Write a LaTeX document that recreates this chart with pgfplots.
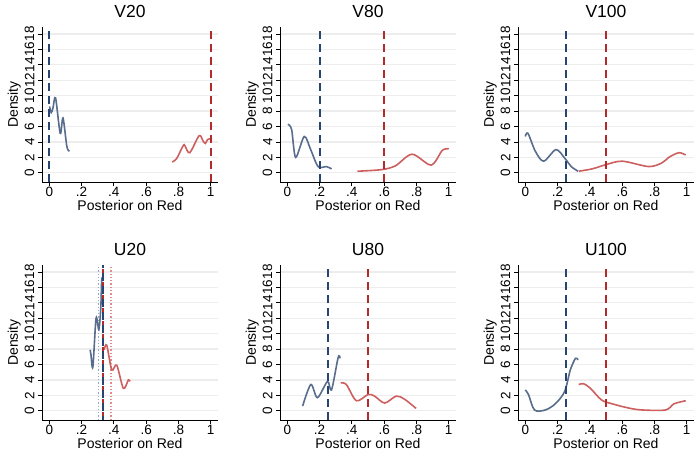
\documentclass[border=0pt]{standalone}
\usepackage{fontspec}
\setmainfont{Liberation Sans}
\usepackage{pgfplots}
\pgfplotsset{compat=1.18}
\usepgfplotslibrary{groupplots}

\definecolor{bcurve}{RGB}{88,108,140}
\definecolor{rcurve}{RGB}{205,95,95}
\definecolor{bline}{RGB}{40,68,112}
\definecolor{rline}{RGB}{180,42,42}
\definecolor{bdot}{RGB}{150,165,190}
\definecolor{rdot}{RGB}{225,140,140}

\pgfplotsset{
  panel/.style={
    scale only axis, width=176pt, height=155pt,
    xmin=-0.045, xmax=1.045, ymin=-1.2, ymax=18.9,
    axis x line*=bottom, axis y line*=left, axis line style={-, line width=0.8pt},
    xtick={0,0.2,0.4,0.6,0.8,1}, xticklabels={0,.2,.4,.6,.8,1},
    ytick={0,2,...,18},
    /pgf/number format/assume math mode=true,
    tick align=outside, major tick length=4pt, tick style={black, line width=0.8pt},
    ticklabel style={font=\fontsize{13.5}{15}\selectfont},
    xticklabel style={inner sep=1pt},
    yticklabel style={rotate=90, anchor=south, inner sep=3.5pt},
    ymajorgrids, grid style={gray!14, line width=1.2pt},
    xlabel={Posterior on Red}, ylabel={Density},
    label style={font=\fontsize{14}{16}\selectfont},
    xlabel style={yshift=1pt}, ylabel style={yshift=-3pt},
    title style={font=\fontsize{17.5}{19}\selectfont},
  },
  bcurv/.style={color=bcurve, line width=1.6pt, smooth},
  rcurv/.style={color=rcurve, line width=1.6pt, smooth},
  bvert/.style={color=bline, line width=2pt, dash pattern=on 8pt off 5pt},
  rvert/.style={color=rline, line width=2pt, dash pattern=on 8pt off 5pt},
}

\begin{document}
\begin{tikzpicture}
\begin{groupplot}[group style={group size=3 by 2, horizontal sep=62pt, vertical sep=83pt}, panel]

% V20
\nextgroupplot[title={V20}]
\addplot[bcurv] coordinates {(0.002,8.6)(0.012,7.8)(0.023,8.4)(0.039,9.7)(0.068,5.1)(0.085,7.1)(0.109,3.4)(0.125,2.8)};
\addplot[rcurv] coordinates {(0.761,1.4)(0.788,1.8)(0.829,3.5)(0.840,3.5)(0.870,2.6)(0.928,4.8)(0.953,4.1)(0.967,3.8)(0.980,4.3)(0.998,4.4)};
\addplot[bvert] coordinates {(0,-1.2)(0,18.9)};
\addplot[rvert] coordinates {(1,-1.2)(1,18.9)};

% V80
\nextgroupplot[title={V80}]
\addplot[bcurv] coordinates {(0.004,6.3)(0.027,5.6)(0.052,2.0)(0.105,4.7)(0.145,3.0)(0.191,0.8)(0.243,0.8)(0.274,0.5)};
\addplot[rcurv] coordinates {(0.434,0.2)(0.583,0.4)(0.67,0.9)(0.773,2.4)(0.891,1.0)(0.96,2.9)(1.0,3.1)};
\addplot[bvert] coordinates {(0.2,-1.2)(0.2,18.9)};
\addplot[rvert] coordinates {(0.6,-1.2)(0.6,18.9)};

% V100
\nextgroupplot[title={V100}]
\addplot[bcurv] coordinates {(0,4.7)(0.017,5.1)(0.062,2.8)(0.114,1.5)(0.19,3.0)(0.244,1.9)(0.285,0.8)(0.327,0.2)};
\addplot[rcurv] coordinates {(0.331,0.2)(0.414,0.5)(0.492,1.0)(0.6,1.5)(0.765,0.8)(0.848,1.3)(0.889,2.0)(0.951,2.6)(0.993,2.3)};
\addplot[bvert] coordinates {(0.25,-1.2)(0.25,18.9)};
\addplot[rvert] coordinates {(0.5,-1.2)(0.5,18.9)};

% U20
\nextgroupplot[title={U20}]
\addplot[color=bdot, line width=1.3pt, dash pattern=on 1.3pt off 2pt] coordinates {(0.304,-1.2)(0.304,18.9)};
\addplot[color=rdot, line width=1.3pt, dash pattern=on 1.3pt off 2pt] coordinates {(0.383,-1.2)(0.383,18.9)};
\addplot[bcurv] coordinates {(0.253,7.9)(0.258,7.3)(0.27,5.7)(0.29,12.0)(0.307,10.5)(0.319,13.3)(0.325,17.0)(0.333,17.0)};
\addplot[rcurv] coordinates {(0.34,7.9)(0.356,8.5)(0.387,5.3)(0.418,5.9)(0.459,2.9)(0.49,4.0)(0.5,3.8)};
\addplot[rvert] coordinates {(0.3333,-1.2)(0.3333,18.9)};
\addplot[bvert, dash phase=4pt] coordinates {(0.3333,-1.2)(0.3333,18.9)};

% U80
\nextgroupplot[title={U80}]
\addplot[bcurv] coordinates {(0.095,0.6)(0.146,3.4)(0.187,1.7)(0.249,3.8)(0.274,2.7)(0.315,6.9)(0.327,6.8)};
\addplot[rcurv] coordinates {(0.331,3.6)(0.366,3.4)(0.428,1.3)(0.5,2.1)(0.541,1.9)(0.603,1.0)(0.675,1.9)(0.726,1.5)(0.798,0.3)};
\addplot[bvert] coordinates {(0.25,-1.2)(0.25,18.9)};
\addplot[rvert] coordinates {(0.5,-1.2)(0.5,18.9)};

% U100
\nextgroupplot[title={U100}]
\addplot[bcurv] coordinates {(0,2.7)(0.02,2.1)(0.057,0.1)(0.124,0.1)(0.186,0.9)(0.244,2.5)(0.279,5.3)(0.311,6.8)(0.327,6.6)};
\addplot[rcurv] coordinates {(0.331,3.4)(0.362,3.5)(0.404,2.9)(0.472,1.4)(0.538,0.9)(0.641,0.35)(0.724,0.1)(0.869,0.1)(0.921,0.9)(0.994,1.3)};
\addplot[bvert] coordinates {(0.25,-1.2)(0.25,18.9)};
\addplot[rvert] coordinates {(0.5,-1.2)(0.5,18.9)};

\end{groupplot}
% page = reference frame, placed from the first panel's top-left corner
\pgfresetboundingbox
\path[use as bounding box] ([shift={(-42pt,27pt)}]group c1r1.north west) rectangle ++(695pt,-451pt);
\end{tikzpicture}
\end{document}
